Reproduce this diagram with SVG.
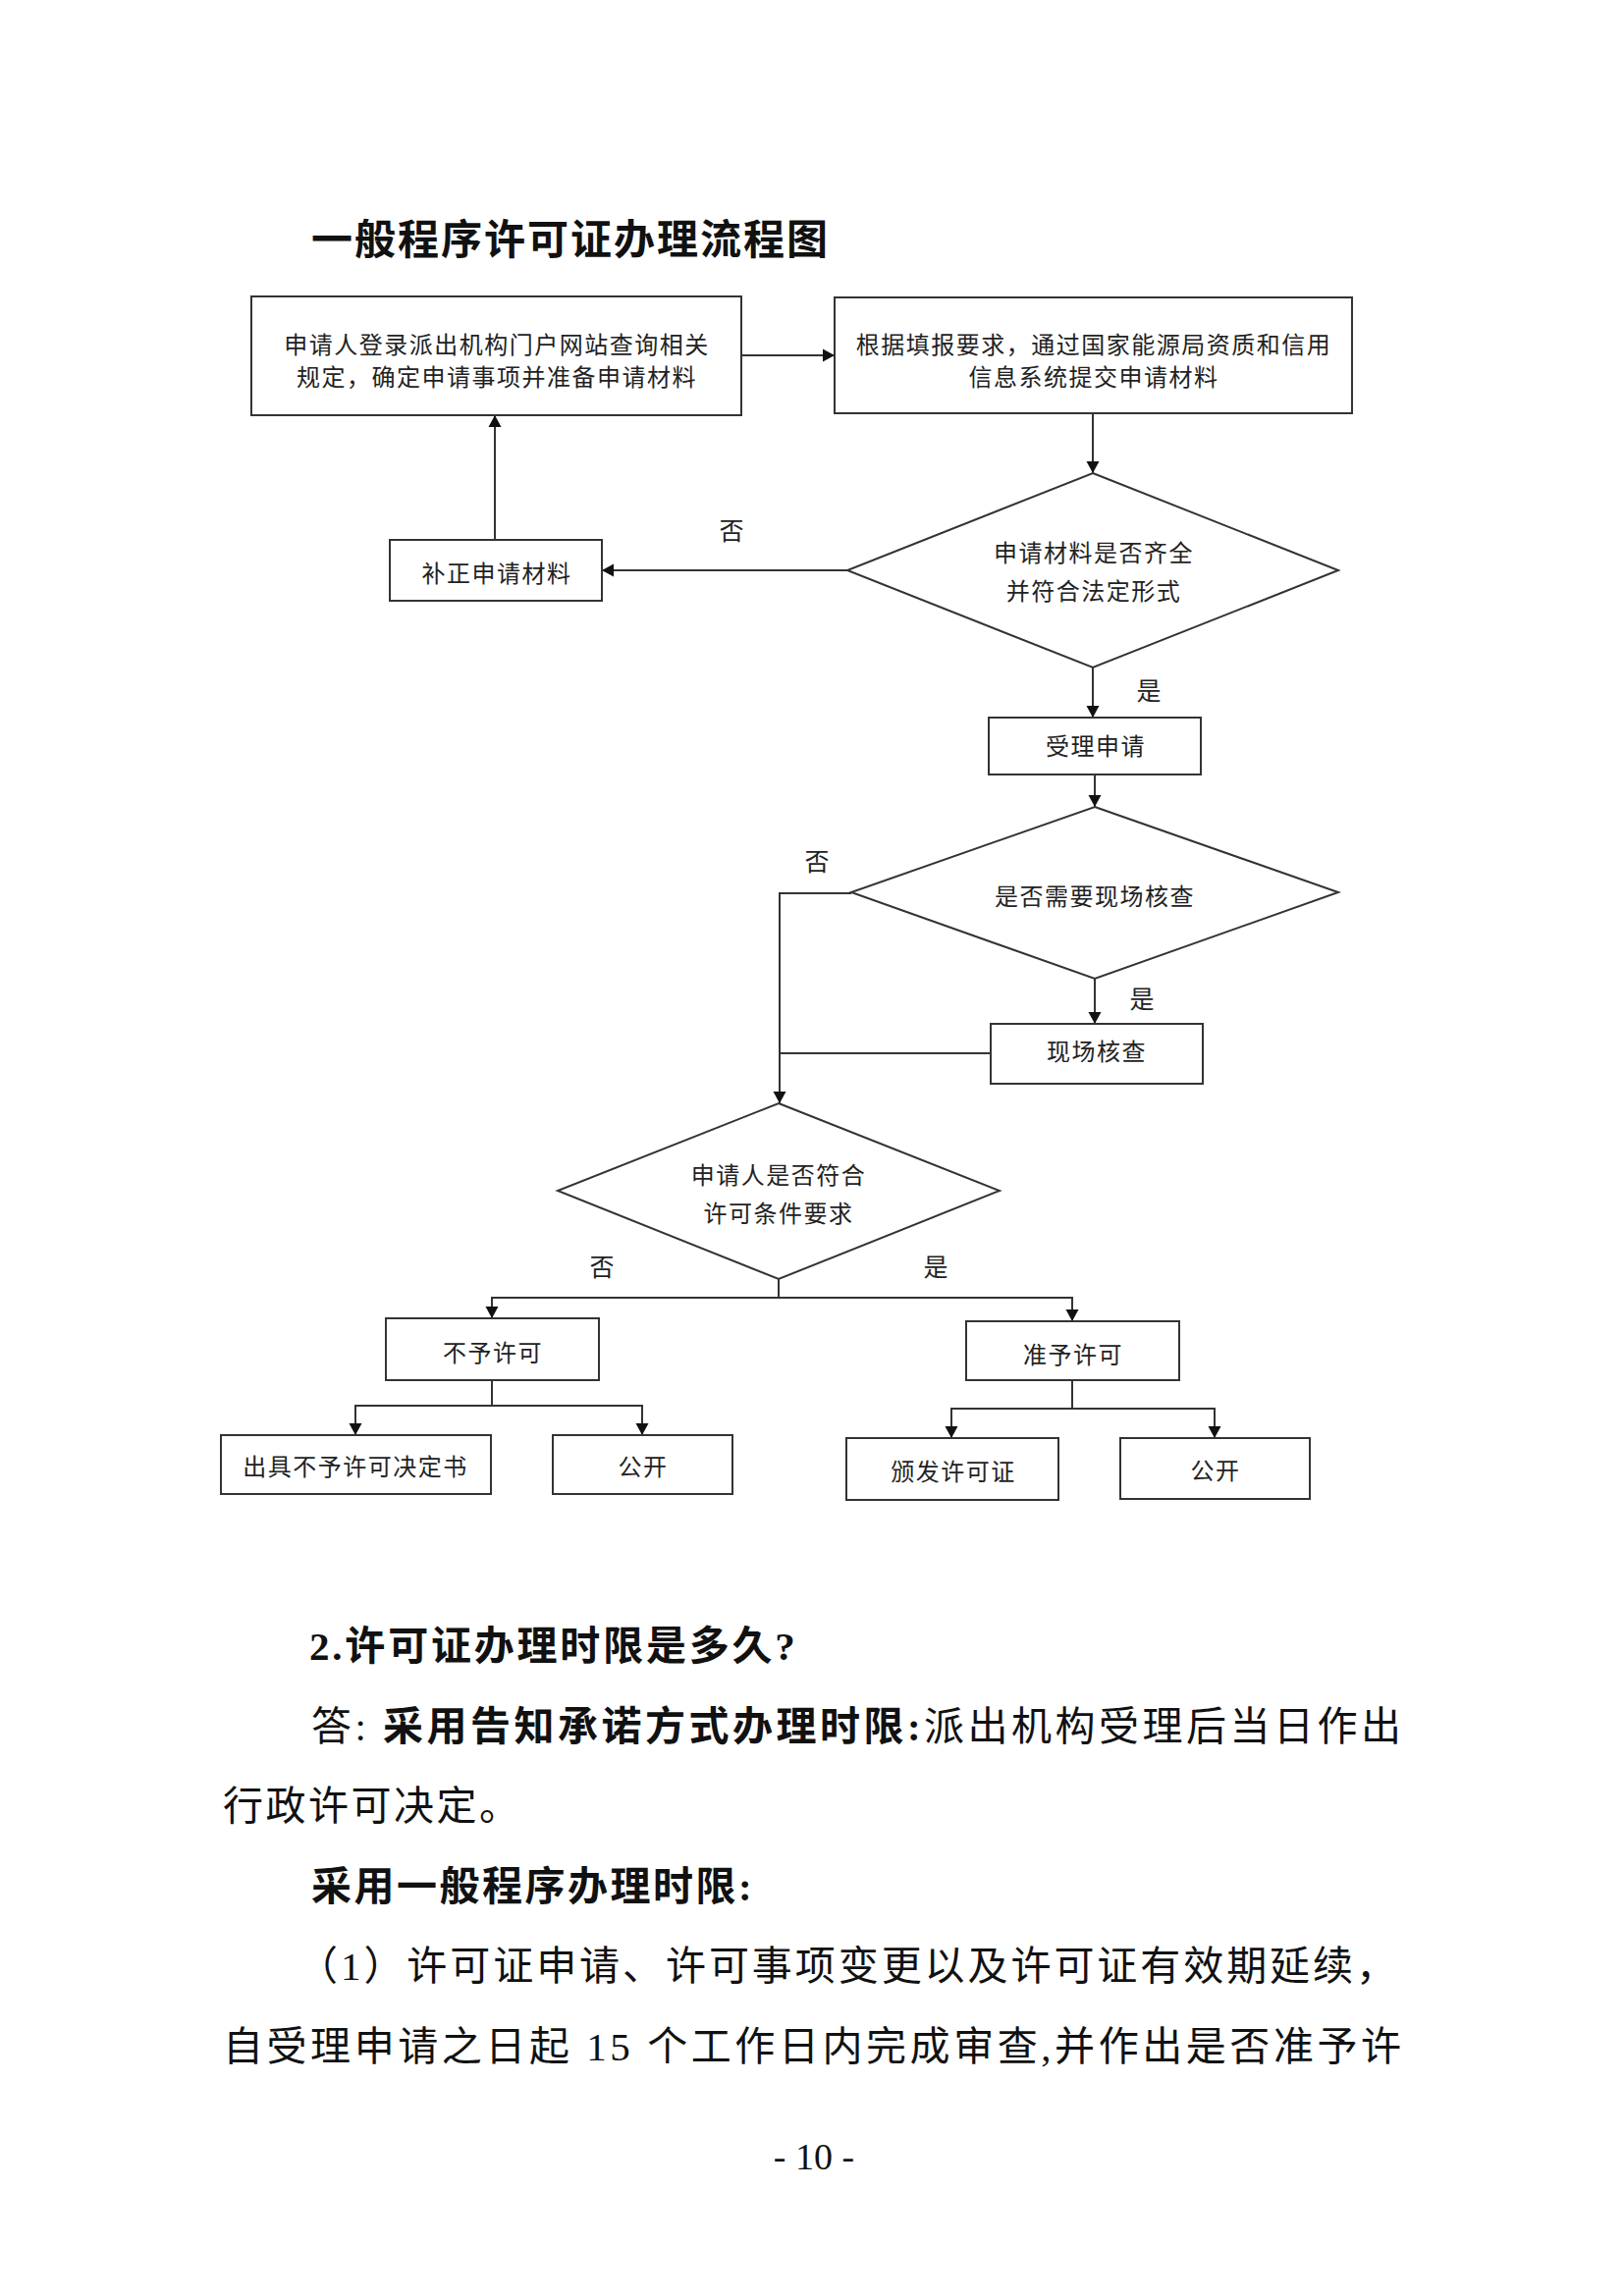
<svg xmlns="http://www.w3.org/2000/svg" width="1654" height="2339" viewBox="0 0 1654 2339">
<style>
.bg{fill:#ffffff}
.box{fill:#ffffff;stroke:#333333;stroke-width:2}
.dia{fill:#ffffff;stroke:#333333;stroke-width:2}
.ln{fill:none;stroke:#333333;stroke-width:2}
.nt{font-family:"Noto Sans CJK SC","Noto Sans",sans-serif;font-size:24px;letter-spacing:1.5px;fill:#222222;text-anchor:middle;dominant-baseline:central}
.lb{font-family:"Noto Sans CJK SC","Noto Sans",sans-serif;font-size:25px;fill:#222222;text-anchor:middle;dominant-baseline:central}
.title{font-family:"Noto Sans CJK SC",sans-serif;font-size:42px;font-weight:700;fill:#111111;letter-spacing:2px;dominant-baseline:central}
.body{font-family:"Liberation Serif","Noto Sans CJK SC",serif;font-size:41px;fill:#111111;dominant-baseline:central}
.b{font-weight:700}
.pg{font-family:"Liberation Serif",serif;font-size:38px;fill:#111111;text-anchor:middle;dominant-baseline:central}
</style>
<defs>
<marker id="ah" markerUnits="userSpaceOnUse" markerWidth="12" markerHeight="14" refX="12" refY="7" orient="auto" viewBox="0 0 12 14">
<path d="M0,0.5 L12,7 L0,13.5 z" fill="#111111"/>
</marker>
</defs>
<rect class="bg" x="0" y="0" width="1654" height="2339"/>

<text class="title" x="317" y="240">一般程序许可证办理流程图</text>

<g id="connectors">
<line class="ln" x1="755" y1="362" x2="850" y2="362" marker-end="url(#ah)"/>
<line class="ln" x1="1113" y1="421" x2="1113" y2="482" marker-end="url(#ah)"/>
<line class="ln" x1="863" y1="581" x2="613" y2="581" marker-end="url(#ah)"/>
<line class="ln" x1="504" y1="550" x2="504" y2="423" marker-end="url(#ah)"/>
<line class="ln" x1="1113" y1="680" x2="1113" y2="731" marker-end="url(#ah)"/>
<line class="ln" x1="1115" y1="789" x2="1115" y2="822" marker-end="url(#ah)"/>
<polyline class="ln" points="867,910 794,910 794,1124" marker-end="url(#ah)"/>
<line class="ln" x1="1115" y1="997" x2="1115" y2="1043" marker-end="url(#ah)"/>
<line class="ln" x1="1009" y1="1073" x2="794" y2="1073"/>
<line class="ln" x1="793" y1="1303" x2="793" y2="1322"/>
<polyline class="ln" points="793,1322 501,1322 501,1343" marker-end="url(#ah)"/>
<polyline class="ln" points="793,1322 1092,1322 1092,1346" marker-end="url(#ah)"/>
<line class="ln" x1="501" y1="1406" x2="501" y2="1432"/>
<polyline class="ln" points="501,1432 362,1432 362,1462" marker-end="url(#ah)"/>
<polyline class="ln" points="501,1432 654,1432 654,1462" marker-end="url(#ah)"/>
<line class="ln" x1="1092" y1="1406" x2="1092" y2="1435"/>
<polyline class="ln" points="1092,1435 969,1435 969,1465" marker-end="url(#ah)"/>
<polyline class="ln" points="1092,1435 1237,1435 1237,1465" marker-end="url(#ah)"/>
<text class="lb" x="745" y="539">否</text>
<text class="lb" x="1170" y="702">是</text>
<text class="lb" x="832" y="876">否</text>
<text class="lb" x="1163" y="1016">是</text>
<text class="lb" x="613" y="1289">否</text>
<text class="lb" x="953" y="1289">是</text>
</g>

<g id="n1">
<rect class="box" x="256" y="302" width="499" height="121"/>
<text class="nt" x="506" y="349">申请人登录派出机构门户网站查询相关</text>
<text class="nt" x="506" y="382">规定，确定申请事项并准备申请材料</text>
</g>
<g id="n2">
<rect class="box" x="850" y="303" width="527" height="118"/>
<text class="nt" x="1114" y="349">根据填报要求，通过国家能源局资质和信用</text>
<text class="nt" x="1114" y="382">信息系统提交申请材料</text>
</g>
<g id="d1">
<polygon class="dia" points="1113,482 1363,581 1113,680 863,581"/>
<text class="nt" x="1114" y="561">申请材料是否齐全</text>
<text class="nt" x="1114" y="600">并符合法定形式</text>
</g>
<g id="n3">
<rect class="box" x="397" y="550" width="216" height="62"/>
<text class="nt" x="506" y="582">补正申请材料</text>
</g>
<g id="n4">
<rect class="box" x="1007" y="731" width="216" height="58"/>
<text class="nt" x="1116" y="758">受理申请</text>
</g>
<g id="d2">
<polygon class="dia" points="1115,822 1363,909 1115,997 867,909"/>
<text class="nt" x="1115" y="911">是否需要现场核查</text>
</g>
<g id="n5">
<rect class="box" x="1009" y="1043" width="216" height="61"/>
<text class="nt" x="1117" y="1069">现场核查</text>
</g>
<g id="d3">
<polygon class="dia" points="793,1124 1018,1213 793,1303 568,1213"/>
<text class="nt" x="793" y="1195">申请人是否符合</text>
<text class="nt" x="793" y="1234">许可条件要求</text>
</g>
<g id="n6">
<rect class="box" x="393" y="1343" width="217" height="63"/>
<text class="nt" x="502" y="1376">不予许可</text>
</g>
<g id="n7">
<rect class="box" x="984" y="1346" width="217" height="60"/>
<text class="nt" x="1093" y="1378">准予许可</text>
</g>
<g id="n8">
<rect class="box" x="225" y="1462" width="275" height="60"/>
<text class="nt" x="362" y="1492">出具不予许可决定书</text>
</g>
<g id="n9">
<rect class="box" x="563" y="1462" width="183" height="60"/>
<text class="nt" x="655" y="1492">公开</text>
</g>
<g id="n10">
<rect class="box" x="862" y="1465" width="216" height="63"/>
<text class="nt" x="971" y="1497">颁发许可证</text>
</g>
<g id="n11">
<rect class="box" x="1141" y="1465" width="193" height="62"/>
<text class="nt" x="1238" y="1496">公开</text>
</g>

<g id="body">
<text class="body b" x="315" y="1677" letter-spacing="2.8">2.许可证办理时限是多久?</text>
<text class="body" x="317" y="1759" textLength="1110" lengthAdjust="spacing">答: <tspan class="b">采用告知承诺方式办理时限:</tspan>派出机构受理后当日作出</text>
<text class="body" x="227" y="1840" letter-spacing="2.5">行政许可决定。</text>
<text class="body b" x="317" y="1922" letter-spacing="2.5">采用一般程序办理时限:</text>
<text class="body" x="303" y="2003" textLength="1119" lengthAdjust="spacing">（1）许可证申请、许可事项变更以及许可证有效期延续，</text>
<text class="body" x="227" y="2085" textLength="1200" lengthAdjust="spacing">自受理申请之日起 15 个工作日内完成审查,并作出是否准予许</text>
<text class="pg" x="829" y="2197">- 10 -</text>
</g>
</svg>
